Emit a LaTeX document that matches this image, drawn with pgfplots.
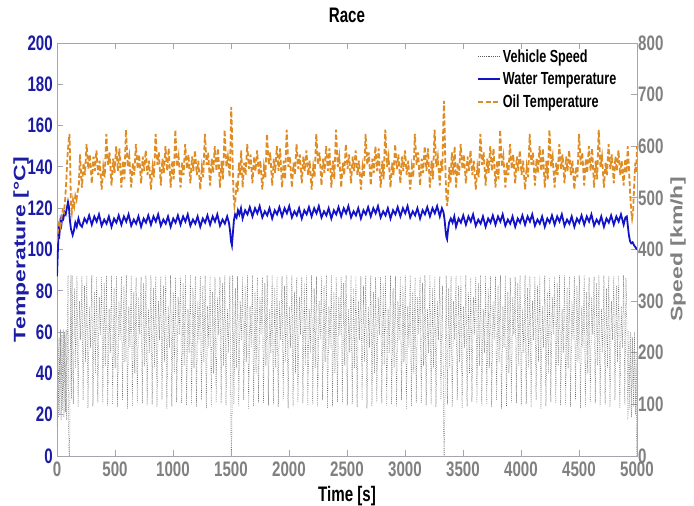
\documentclass[border=0pt]{standalone}
\usepackage{pgfplots}
\pgfplotsset{compat=1.18}
\usepackage{graphicx}
\usepackage{fontspec}
\setmainfont{Liberation Sans}[FakeStretch=0.72]
\newfontfamily\rotfont{Liberation Sans}
\definecolor{tblue}{RGB}{28,28,165}
\definecolor{wblue}{RGB}{18,18,200}
\definecolor{oil}{RGB}{222,140,35}
\definecolor{tgray}{RGB}{128,128,128}
\definecolor{spine}{RGB}{165,165,175}
\definecolor{spd}{RGB}{95,95,95}
\begin{document}
\begin{tikzpicture}
\path[use as bounding box] (-57pt,-50pt) rectangle (637pt,456pt);
% ---------------- speed axis (right) ----------------
\begin{axis}[
 scale only axis, width=580pt, height=413pt, at={(0,0)}, anchor=south west,
 xmin=0, xmax=5000, ymin=0, ymax=800,
 axis x line=none, axis y line*=right,
 ytick={0,100,...,800},
 tick align=inside, major tick length=6pt,
 y axis line style={color=spine, line width=0.8pt},
 ytick style={color=spine, line width=0.8pt},
 yticklabel style={font=\fontsize{21}{24}\selectfont\bfseries, text=tgray, inner sep=1pt},
 /pgf/number format/assume math mode=true,
 /pgf/number format/1000 sep={},
 ylabel={\scalebox{1}[0.72]{\rotfont\bfseries\fontsize{23}{26}\selectfont Speed [km/h]}},
 ylabel style={at={(axis description cs:1.0707,0.5)}, anchor=center, text=tgray},
]
\addplot[spd, line width=0.5pt, dash pattern=on 0.7pt off 1.2pt] coordinates {
(0,60)(6,240)(12,75)(18,230)(24,80)(30,245)(36,70)(42,235)(48,90)(54,245)(60,75)(66,240)(72,85)(78,245)(84,70)(90,230)(95,350)(100,60)(104,0)(109,0)(114,200)(119,350)(124,110)
(130,350)(140,100)(152,325)(161,170)(172,348)(182,95)(194,300)(204,225)
(215,348)(225,108)(237,330)(246,182)(257,350)(267,92)(279,290)(289,210)
(300,350)(310,96)(322,318)(331,160)(342,346)(352,104)(364,308)(374,235)
(385,347)(395,102)(407,335)(416,175)(427,350)(437,98)(449,285)(459,200)
(470,350)(480,100)(492,325)(501,170)(512,348)(522,95)(534,300)(544,225)
(555,348)(565,108)(577,330)(586,182)(597,350)(607,92)(619,290)(629,210)
(640,350)(650,96)(662,318)(671,160)(682,346)(692,104)(704,308)(714,235)
(725,347)(735,102)(747,335)(756,175)(767,350)(777,98)(789,285)(799,200)
(810,350)(820,100)(832,325)(841,170)(852,348)(862,95)(874,300)(884,225)
(895,348)(905,108)(917,330)(926,182)(937,350)(947,92)(959,290)(969,210)
(980,350)(990,96)(1002,318)(1011,160)(1022,346)(1032,104)(1044,308)(1054,235)
(1065,347)(1075,102)(1087,335)(1096,175)(1107,350)(1117,98)(1129,285)(1139,200)
(1150,350)(1160,100)(1172,325)(1181,170)(1192,348)(1202,95)(1214,300)(1224,225)
(1235,348)(1245,108)(1257,330)(1266,182)(1277,350)(1287,92)(1299,290)(1309,210)
(1320,350)(1330,96)(1342,318)(1351,160)(1362,346)(1372,104)(1384,308)(1394,235)
(1405,347)(1415,102)(1427,335)(1436,175)(1447,350)(1457,98)(1469,285)(1479,200)
(1490,348)(1499,82)(1501,0)(1505,0)(1509,90)(1512,230)
(1515,350)(1525,100)(1537,325)(1546,170)(1557,348)(1567,95)(1579,300)(1589,225)
(1600,348)(1610,108)(1622,330)(1631,182)(1642,350)(1652,92)(1664,290)(1674,210)
(1685,350)(1695,96)(1707,318)(1716,160)(1727,346)(1737,104)(1749,308)(1759,235)
(1770,347)(1780,102)(1792,335)(1801,175)(1812,350)(1822,98)(1834,285)(1844,200)
(1855,350)(1865,100)(1877,325)(1886,170)(1897,348)(1907,95)(1919,300)(1929,225)
(1940,348)(1950,108)(1962,330)(1971,182)(1982,350)(1992,92)(2004,290)(2014,210)
(2025,350)(2035,96)(2047,318)(2056,160)(2067,346)(2077,104)(2089,308)(2099,235)
(2110,347)(2120,102)(2132,335)(2141,175)(2152,350)(2162,98)(2174,285)(2184,200)
(2195,350)(2205,100)(2217,325)(2226,170)(2237,348)(2247,95)(2259,300)(2269,225)
(2280,348)(2290,108)(2302,330)(2311,182)(2322,350)(2332,92)(2344,290)(2354,210)
(2365,350)(2375,96)(2387,318)(2396,160)(2407,346)(2417,104)(2429,308)(2439,235)
(2450,347)(2460,102)(2472,335)(2481,175)(2492,350)(2502,98)(2514,285)(2524,200)
(2535,350)(2545,100)(2557,325)(2566,170)(2577,348)(2587,95)(2599,300)(2609,225)
(2620,348)(2630,108)(2642,330)(2651,182)(2662,350)(2672,92)(2684,290)(2694,210)
(2705,350)(2715,96)(2727,318)(2736,160)(2747,346)(2757,104)(2769,308)(2779,235)
(2790,347)(2800,102)(2812,335)(2821,175)(2832,350)(2842,98)(2854,285)(2864,200)
(2875,350)(2885,100)(2897,325)(2906,170)(2917,348)(2927,95)(2939,300)(2949,225)
(2960,348)(2970,108)(2982,330)(2991,182)(3002,350)(3012,92)(3024,290)(3034,210)
(3045,350)(3055,96)(3067,318)(3076,160)(3087,346)(3097,104)(3109,308)(3119,235)
(3130,347)(3140,102)(3152,335)(3161,175)(3172,350)(3182,98)(3194,285)(3204,200)
(3215,350)(3225,100)(3237,325)(3246,170)(3257,348)(3267,95)(3279,300)(3289,225)
(3300,348)(3310,108)(3322,330)(3331,150)(3335,0)(3339,0)(3344,95)(3350,230)
(3355,350)(3365,100)(3377,325)(3386,170)(3397,348)(3407,95)(3419,300)(3429,225)
(3440,348)(3450,108)(3462,330)(3471,182)(3482,350)(3492,92)(3504,290)(3514,210)
(3525,350)(3535,96)(3547,318)(3556,160)(3567,346)(3577,104)(3589,308)(3599,235)
(3610,347)(3620,102)(3632,335)(3641,175)(3652,350)(3662,98)(3674,285)(3684,200)
(3695,350)(3705,100)(3717,325)(3726,170)(3737,348)(3747,95)(3759,300)(3769,225)
(3780,348)(3790,108)(3802,330)(3811,182)(3822,350)(3832,92)(3844,290)(3854,210)
(3865,350)(3875,96)(3887,318)(3896,160)(3907,346)(3917,104)(3929,308)(3939,235)
(3950,347)(3960,102)(3972,335)(3981,175)(3992,350)(4002,98)(4014,285)(4024,200)
(4035,350)(4045,100)(4057,325)(4066,170)(4077,348)(4087,95)(4099,300)(4109,225)
(4120,348)(4130,108)(4142,330)(4151,182)(4162,350)(4172,92)(4184,290)(4194,210)
(4205,350)(4215,96)(4227,318)(4236,160)(4247,346)(4257,104)(4269,308)(4279,235)
(4290,347)(4300,102)(4312,335)(4321,175)(4332,350)(4342,98)(4354,285)(4364,200)
(4375,350)(4385,100)(4397,325)(4406,170)(4417,348)(4427,95)(4439,300)(4449,225)
(4460,348)(4470,108)(4482,330)(4491,182)(4502,350)(4512,92)(4524,290)(4534,210)
(4545,350)(4555,96)(4567,318)(4576,160)(4587,346)(4597,104)(4609,308)(4619,235)
(4630,347)(4640,102)(4652,335)(4661,175)(4672,350)(4682,98)(4694,285)(4704,200)
(4715,350)(4725,100)(4737,325)(4746,170)(4757,348)(4767,95)(4779,300)(4789,225)
(4800,348)(4810,108)(4822,330)(4831,182)(4842,350)(4852,92)(4864,290)(4874,210)
(4885,350)(4895,100)(4905,345)(4914,240)(4922,70)(4930,245)(4938,90)(4946,240)(4954,75)(4962,230)(4970,95)(4978,240)(4986,80)(4993,200)(4998,0)
};
\end{axis}
% ---------------- temperature axis (left) ----------------
\begin{axis}[
 scale only axis, width=580pt, height=413pt, at={(0,0)}, anchor=south west,
 xmin=0, xmax=5000, ymin=0, ymax=200,
 xtick={0,500,...,5000}, ytick={0,20,...,200},
 xtick pos=both, xticklabel pos=left, ytick pos=left,
 tick align=inside, major tick length=6pt,
 axis line style={color=spine, line width=0.8pt},
 tick style={color=spine, line width=0.8pt},
 xticklabel style={font=\fontsize{21}{24}\selectfont\bfseries, text=tgray, inner sep=1pt, yshift=-5pt},
 yticklabel style={font=\fontsize{21}{24}\selectfont\bfseries, text=tblue, inner sep=1pt, xshift=-3pt},
 /pgf/number format/assume math mode=true,
 /pgf/number format/1000 sep={},
 xlabel={Time [s]},
 xlabel style={font=\fontsize{21}{24}\selectfont\bfseries, at={(axis description cs:0.5,0)}, anchor=base, yshift=-46pt},
 ylabel={\scalebox{1}[0.72]{\rotfont\bfseries\fontsize{23}{26}\selectfont Temperature [°C]}},
 ylabel style={at={(axis description cs:-0.062,0.5)}, anchor=center, text=tblue},
 title={Race},
 title style={font=\fontsize{21}{24}\selectfont\bfseries, at={(axis description cs:0.5,1)}, anchor=base, yshift=14pt},
 legend style={at={(axis description cs:0.724,0.99)}, anchor=north west, draw=none, fill=none,
   font=\fontsize{17.5}{20}\selectfont\bfseries, inner sep=0pt, row sep=5pt},
 legend cell align=left,
 legend image code/.code={\draw[#1] (0pt,0pt) -- (22pt,0pt);},
]
\addlegendimage{spd, line width=0.7pt, dash pattern=on 0.8pt off 1.1pt}
\addlegendentry{Vehicle Speed}
\addplot[wblue, line width=1.8pt] coordinates {
(0,87)(8,100)(15,110)(22,108)(30,114)(38,112)(46,116)(55,115)(65,118)(75,117)(85,120)(95,123)(102,121)(110,115)(120,110)(135,107)(145,109)(158,113)(170,111)(185,115)(200,112)
(215,111)(237,115)(257,113)(277,116.5)
(300,112)(322,116)(342,113.5)(362,117)
(385,111.5)(407,114.5)(427,112.5)(447,116)
(470,111)(492,115)(512,113)(532,116.5)
(555,112)(577,116)(597,113.5)(617,117)
(640,111.5)(662,114.5)(682,112.5)(702,116)
(725,111)(747,115)(767,113)(787,116.5)
(810,112)(832,116)(852,113.5)(872,117)
(895,111.5)(917,114.5)(937,112.5)(957,116)
(980,111)(1002,115)(1022,113)(1042,116.5)
(1065,112)(1087,116)(1107,113.5)(1127,117)
(1150,111.5)(1172,114.5)(1192,112.5)(1212,116)
(1235,111)(1257,115)(1277,113)(1297,116.5)
(1320,112)(1342,116)(1362,113.5)(1382,117)
(1405,111.5)(1427,114.5)(1447,112.5)(1467,116)
(1482,113)(1492,109)(1500,104)(1508,102)(1515,107)(1525,114)(1535,117)(1548,115.5)(1560,119)(1572,117)(1586,120)
(1600,115)(1622,119)(1642,117)(1662,120.5)
(1685,116)(1707,120)(1727,117.5)(1747,121)
(1770,115.5)(1792,118.5)(1812,116.5)(1832,120)
(1855,115)(1877,119)(1897,117)(1917,120.5)
(1940,116)(1962,120)(1982,117.5)(2002,121)
(2025,115.5)(2047,118.5)(2067,116.5)(2087,120)
(2110,115)(2132,119)(2152,117)(2172,120.5)
(2195,116)(2217,120)(2237,117.5)(2257,121)
(2280,115.5)(2302,118.5)(2322,116.5)(2342,120)
(2365,115)(2387,119)(2407,117)(2427,120.5)
(2450,116)(2472,120)(2492,117.5)(2512,121)
(2535,115.5)(2557,118.5)(2577,116.5)(2597,120)
(2620,115)(2642,119)(2662,117)(2682,120.5)
(2705,116)(2727,120)(2747,117.5)(2767,121)
(2790,115.5)(2812,118.5)(2832,116.5)(2852,120)
(2875,115)(2897,119)(2917,117)(2937,120.5)
(2960,116)(2982,120)(3002,117.5)(3022,121)
(3045,115.5)(3067,118.5)(3087,116.5)(3107,120)
(3130,115)(3152,119)(3172,117)(3192,120.5)
(3215,116)(3237,120)(3257,117.5)(3277,121)
(3300,116)(3318,120)(3332,118)(3342,114)(3350,109)(3357,106)(3363,105)(3370,109)(3380,113)(3395,115)(3410,113)(3425,116)
(3440,111)(3462,115)(3482,113)(3502,116.5)
(3525,112)(3547,116)(3567,113.5)(3587,117)
(3610,111.5)(3632,114.5)(3652,112.5)(3672,116)
(3695,111)(3717,115)(3737,113)(3757,116.5)
(3780,112)(3802,116)(3822,113.5)(3842,117)
(3865,111.5)(3887,114.5)(3907,112.5)(3927,116)
(3950,111)(3972,115)(3992,113)(4012,116.5)
(4035,112)(4057,116)(4077,113.5)(4097,117)
(4120,111.5)(4142,114.5)(4162,112.5)(4182,116)
(4205,111)(4227,115)(4247,113)(4267,116.5)
(4290,112)(4312,116)(4332,113.5)(4352,117)
(4375,111.5)(4397,114.5)(4417,112.5)(4437,116)
(4460,111)(4482,115)(4502,113)(4522,116.5)
(4545,112)(4567,116)(4587,113.5)(4607,117)
(4630,111.5)(4652,114.5)(4672,112.5)(4692,116)
(4715,111)(4737,115)(4757,113)(4777,116.5)
(4800,112)(4822,116)(4842,113.5)(4862,117)
(4885,112)(4900,115.5)(4912,116)(4920,112)(4930,107)(4940,104)(4950,103)(4962,103.5)(4975,102)(4988,101)(5000,100)
};
\addlegendentry{Water Temperature}
\addplot[oil, line width=1.8pt, dash pattern=on 5pt off 2.5pt] coordinates {
(0,104)(10,110)(20,113)(30,111)(40,116)(50,119)(60,118)(70,124)(80,133)(90,145)(100,152)(108,156)(114,140)(120,122)(128,118)(138,124)(148,121)(158,126)(168,124)(178,128)(188,131)(198,146)(206,138)
(215,130)(229,142)(241,136)(255,151)(270,139)(283,146)
(300,132)(314,145)(326,138)(340,148)(355,136)(368,143)
(385,129)(399,140)(411,135)(425,156)(440,141)(453,147)
(470,131)(484,144)(496,137)(510,150)(525,138)(538,149)
(555,130)(569,143)(581,134)(595,158)(610,140)(623,145)
(640,130)(654,142)(666,136)(680,151)(695,139)(708,146)
(725,132)(739,145)(751,138)(765,148)(780,136)(793,143)
(810,129)(824,140)(836,135)(850,156)(865,141)(878,147)
(895,131)(909,144)(921,137)(935,150)(950,138)(963,149)
(980,130)(994,143)(1006,134)(1020,158)(1035,140)(1048,145)
(1065,130)(1079,142)(1091,136)(1105,151)(1120,139)(1133,146)
(1150,132)(1164,145)(1176,138)(1190,148)(1205,136)(1218,143)
(1235,129)(1249,140)(1261,135)(1275,156)(1290,141)(1303,147)
(1320,131)(1334,144)(1346,137)(1360,150)(1375,138)(1388,149)
(1405,130)(1419,143)(1431,134)(1445,158)(1460,140)(1473,145)
(1488,135)(1496,150)(1502,169)(1508,158)(1515,140)(1522,126)(1530,121)(1538,124)(1548,133)(1558,128)(1568,142)(1578,136)(1588,148)(1595,138)
(1600,130)(1614,142)(1626,136)(1640,151)(1655,139)(1668,146)
(1685,132)(1699,145)(1711,138)(1725,148)(1740,136)(1753,143)
(1770,129)(1784,140)(1796,135)(1810,156)(1825,141)(1838,147)
(1855,131)(1869,144)(1881,137)(1895,150)(1910,138)(1923,149)
(1940,130)(1954,143)(1966,134)(1980,158)(1995,140)(2008,145)
(2025,130)(2039,142)(2051,136)(2065,151)(2080,139)(2093,146)
(2110,132)(2124,145)(2136,138)(2150,148)(2165,136)(2178,143)
(2195,129)(2209,140)(2221,135)(2235,156)(2250,141)(2263,147)
(2280,131)(2294,144)(2306,137)(2320,150)(2335,138)(2348,149)
(2365,130)(2379,143)(2391,134)(2405,158)(2420,140)(2433,145)
(2450,130)(2464,142)(2476,136)(2490,151)(2505,139)(2518,146)
(2535,132)(2549,145)(2561,138)(2575,148)(2590,136)(2603,143)
(2620,129)(2634,140)(2646,135)(2660,156)(2675,141)(2688,147)
(2705,131)(2719,144)(2731,137)(2745,150)(2760,138)(2773,149)
(2790,130)(2804,143)(2816,134)(2830,158)(2845,140)(2858,145)
(2875,130)(2889,142)(2901,136)(2915,151)(2930,139)(2943,146)
(2960,132)(2974,145)(2986,138)(3000,148)(3015,136)(3028,143)
(3045,129)(3059,140)(3071,135)(3085,156)(3100,141)(3113,147)
(3130,131)(3144,144)(3156,137)(3170,150)(3185,138)(3198,149)
(3215,130)(3229,143)(3241,134)(3255,158)(3270,140)(3283,145)
(3300,131)(3312,143)(3322,138)(3330,160)(3336,172)(3342,158)(3350,135)(3358,124)(3364,121)(3372,127)(3382,140)(3392,132)(3404,147)(3416,136)(3428,150)
(3440,130)(3454,142)(3466,136)(3480,151)(3495,139)(3508,146)
(3525,132)(3539,145)(3551,138)(3565,148)(3580,136)(3593,143)
(3610,129)(3624,140)(3636,135)(3650,156)(3665,141)(3678,147)
(3695,131)(3709,144)(3721,137)(3735,150)(3750,138)(3763,149)
(3780,130)(3794,143)(3806,134)(3820,158)(3835,140)(3848,145)
(3865,130)(3879,142)(3891,136)(3905,151)(3920,139)(3933,146)
(3950,132)(3964,145)(3976,138)(3990,148)(4005,136)(4018,143)
(4035,129)(4049,140)(4061,135)(4075,156)(4090,141)(4103,147)
(4120,131)(4134,144)(4146,137)(4160,150)(4175,138)(4188,149)
(4205,130)(4219,143)(4231,134)(4245,158)(4260,140)(4273,145)
(4290,130)(4304,142)(4316,136)(4330,151)(4345,139)(4358,146)
(4375,132)(4389,145)(4401,138)(4415,148)(4430,136)(4443,143)
(4460,129)(4474,140)(4486,135)(4500,156)(4515,141)(4528,147)
(4545,131)(4559,144)(4571,137)(4585,150)(4600,138)(4613,149)
(4630,130)(4644,143)(4656,134)(4670,158)(4685,140)(4698,145)
(4715,130)(4729,142)(4741,136)(4755,151)(4770,139)(4783,146)
(4800,132)(4814,145)(4826,138)(4840,148)(4855,136)(4868,143)
(4885,131)(4899,144)(4911,137)(4920,150)(4930,140)(4940,128)(4950,119)(4958,115)(4966,118)(4975,130)(4985,142)(4993,137)(5000,150)
};
\addlegendentry{Oil Temperature}
\end{axis}
\end{tikzpicture}
\end{document}
